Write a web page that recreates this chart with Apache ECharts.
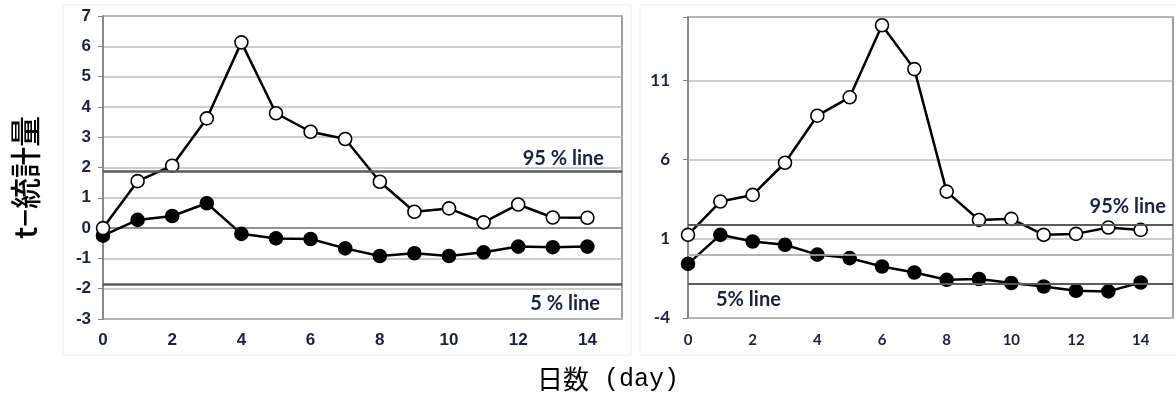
<!DOCTYPE html>
<html>
<head>
<meta charset="utf-8">
<script src="https://cdn.jsdelivr.net/npm/echarts@6/dist/echarts.min.js"></script>
<style>html,body{margin:0;padding:0;background:#fff;}#c{width:1176px;height:403px;}</style>
</head>
<body>
<div id="c"></div>
<script>
// ---- data ----
const days = [0,1,2,3,4,5,6,7,8,9,10,11,12,13,14];
const leftOpen   = [0.00,1.55,2.06,3.62,6.13,3.79,3.18,2.94,1.53,0.54,0.65,0.19,0.78,0.35,0.34];
const leftFilled = [-0.25,0.27,0.40,0.82,-0.19,-0.34,-0.36,-0.67,-0.92,-0.83,-0.92,-0.80,-0.61,-0.63,-0.61];
const rightOpen   = [1.25,3.35,3.77,5.80,8.77,9.93,14.48,11.71,3.98,2.19,2.26,1.25,1.31,1.71,1.56];
const rightFilled = [-0.58,1.25,0.83,0.62,0.00,-0.22,-0.75,-1.13,-1.59,-1.54,-1.79,-2.01,-2.28,-2.32,-1.76];
const leftUpper = 1.86, leftLower = -1.86;
const rightUpper = 1.86, rightLower = -1.86, rightExtraGrid = 0;
const leftYTicks = {min:-3, max:7, step:1};
const rightYTicks = {min:-4, max:15, step:5};
const xTicks = {min:0, max:15, step:2};
const labels = {ytitle:'t−統計量', xtitleA:'日数', xtitleB:' (day)', up95L:'95 % line', lo5L:'5 % line', up95R:'95% line', lo5R:'5% line'};

const pair = (xs, ys) => xs.map((x,i)=>[x, ys[i]]);
const chart = echarts.init(document.getElementById('c'));

const tickCol = '#1c2140';
const gridCol = '#bdbdbd';
const frameCol = '#808080';
const threshCol = '#5a5a5a';

function xAxis(gridIndex, fontSize, fontFamily, margin){
  return {
    type:'value', gridIndex, min:xTicks.min, max:xTicks.max, interval:xTicks.step,
    axisLine:{show:true, lineStyle:{color:frameCol, width:1.5}},
    axisTick:{show:false}, splitLine:{show:false},
    axisLabel:{color:tickCol, fontSize, fontWeight:'bold', fontFamily, margin,
      formatter:v => (v % xTicks.step === 0 && v <= 14) ? String(v) : ''}
  };
}
function yAxis(gridIndex, t, fontSize, fontFamily, margin){
  return {
    type:'value', gridIndex, min:t.min, max:t.max, interval:t.step,
    axisLine:{show:true, lineStyle:{color:frameCol, width:1.5}},
    axisTick:{show:true, length:5, lineStyle:{color:frameCol}},
    splitLine:{show:true, lineStyle:{color:gridCol, width:1.5}},
    axisLabel:{color:tickCol, fontSize, fontWeight:'bold', fontFamily, margin,
      formatter:v => ((v - t.min) % t.step === 0) ? String(v) : ''}
  };
}
function lineSeries(idx, data, open){
  return {
    type:'line', xAxisIndex:idx, yAxisIndex:idx, data,
    symbol:'circle', symbolSize:13, showSymbol:true,
    lineStyle:{color:'#000', width:2.5},
    itemStyle:{color: open ? '#fff' : '#000', borderColor:'#000', borderWidth:1.6},
    z: open ? 4 : 3, animation:false
  };
}
const lblFont = {fontFamily:'Lato', fontWeight:'bold', color:'#1c2140'};

chart.setOption({
  animation:false,
  backgroundColor:'#fff',
  graphic:[
    {type:'rect', shape:{x:63,y:5,width:568,height:350}, style:{fill:'none', stroke:'#eeeeee', lineWidth:1}, silent:true, z:-10},
    {type:'rect', shape:{x:640,y:5,width:540,height:350}, style:{fill:'none', stroke:'#eeeeee', lineWidth:1}, silent:true, z:-10},
    {type:'text', left:10, top:116, rotation:Math.PI/2, style:{text:labels.ytitle, fontSize:31, fontFamily:'Noto Sans CJK JP', fontWeight:500, fill:'#000'}},
    {type:'text', left:537, top:366, style:{
      text:'{a|'+labels.xtitleA+'}{b|'+labels.xtitleB+'}',
      rich:{a:{fontSize:26, fontFamily:'Noto Sans CJK JP', fill:'#000', color:'#000'},
            b:{fontSize:25, fontFamily:'Liberation Mono', fill:'#000', color:'#000'}}}}
  ],
  grid:[
    {left:103, top:16, width:519, height:303, show:true, borderColor:frameCol, borderWidth:1.5, containLabel:false},
    {left:688, top:17, width:487, height:301, show:true, borderColor:frameCol, borderWidth:1.5, containLabel:false}
  ],
  xAxis:[ xAxis(0, 17, 'Liberation Sans', 13), xAxis(1, 15, 'Lato', 15) ],
  yAxis:[ yAxis(0, leftYTicks, 17, 'Liberation Sans', 12), yAxis(1, rightYTicks, 17, 'Lato', 18) ],
  series:[
    Object.assign(lineSeries(0, pair(days, leftOpen), true), {
      markLine:{symbol:'none', silent:true, animation:false,
        lineStyle:{color:threshCol, width:2.5, type:'solid'},
        data:[
          {yAxis:leftUpper, label:{show:true, position:'insideEndTop', formatter:labels.up95L, fontSize:20, distance:[18,3], ...lblFont}},
          {yAxis:leftLower, label:{show:true, position:'insideEndBottom', formatter:labels.lo5L, fontSize:20, distance:[22,9], ...lblFont}}
        ]}
    }),
    lineSeries(0, pair(days, leftFilled), false),
    Object.assign(lineSeries(1, pair(days, rightOpen), true), {
      markLine:{symbol:'none', silent:true, animation:false,
        lineStyle:{color:threshCol, width:2, type:'solid'},
        data:[
          {yAxis:rightUpper, label:{show:true, position:'insideEndTop', formatter:labels.up95R, fontSize:20, distance:[7,9], ...lblFont}},
          {yAxis:rightLower, label:{show:true, position:'insideStartBottom', formatter:labels.lo5R, fontSize:20, distance:[28,5], ...lblFont}},
          {yAxis:rightExtraGrid, lineStyle:{color:gridCol, width:1.5}, label:{show:false}}
        ]}
    }),
    lineSeries(1, pair(days, rightFilled), false)
  ]
});
</script>
</body>
</html>
